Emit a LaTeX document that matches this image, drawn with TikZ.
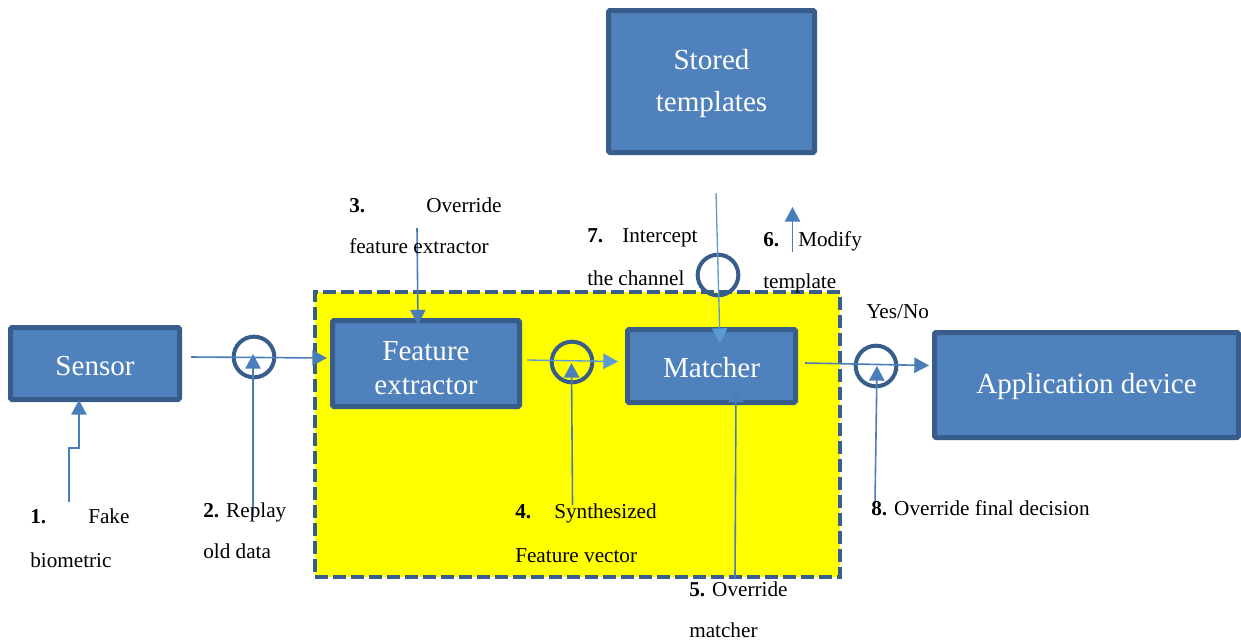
\documentclass[tikz,border=0pt]{standalone}
\usepackage{fontspec}
\setmainfont{Liberation Serif}
\usetikzlibrary{arrows.meta,calc}
\definecolor{boxfill}{HTML}{4F81BD}
\definecolor{boxline}{HTML}{385D8A}
\definecolor{arrowblue}{HTML}{4A7EBB}
\definecolor{arrowlight}{HTML}{5B9BD5}
\definecolor{zonefill}{HTML}{FFFF00}
\begin{document}
\begin{tikzpicture}[x=0.75pt,y=-0.75pt,
  block/.style={draw=boxline, fill=boxfill, line width=3.75pt, rounded corners=1.1pt,
    inner sep=0pt},
  btext/.style={text=white, font=\fontsize{21.8}{25.5}\selectfont, align=center, inner sep=0pt},
  zone/.style={draw=boxline, fill=zonefill, line width=3pt, dash pattern=on 9.75pt off 3.75pt,
    inner sep=0pt},
  tap/.style={circle, draw=boxline, line width=3pt, minimum size=30.5pt, inner sep=0pt},
  arr/.style={draw=arrowblue, line width=1.2pt, -{Triangle[length=11pt,width=11.5pt]}},
  arrlight/.style={arr, draw=arrowlight, line width=1pt},
  lbl/.style={font=\fontsize{15.9}{19}\selectfont, anchor=base west, inner sep=0pt}]
\useasboundingbox (0,0) rectangle (1241,643);

% protected processing zone
\node[zone, minimum width=393.75pt, minimum height=213.75pt] (zone) at (577.5,434.5) {};

% system blocks
\node[block, minimum width=126.75pt, minimum height=54pt] (sen) at (95,363.5) {};
\node[block, minimum width=140.25pt, minimum height=64.5pt] (fe) at (426,363.5) {};
\node[block, minimum width=126pt, minimum height=54.75pt] (mat) at (711.5,366) {};
\node[block, minimum width=228pt, minimum height=78.75pt] (app) at (1086.5,385) {};
\node[block, minimum width=154.5pt, minimum height=106.5pt] (st) at (711.5,81.5) {};

% block captions
\node[btext] (sent) at ($(sen.center)+(0,2.5)$) {Sensor};
\node[btext] (fet) at ($(fe.center)+(0,4.5)$) {Feature\\extractor};
\node[btext] (matt) at ($(mat.center)+(0,1.5)$) {Matcher};
\node[btext] (appt) at ($(app.center)+(0,1.5)$) {Application device};
\node[btext, font=\fontsize{21.8}{31.5}\selectfont] (stt) at ($(st.center)+(0,2.5)$) {Stored\\templates};

% attack points on the channels
\node[tap] (c1) at (254,357) {};
\node[tap] (c2) at (572,362) {};
\node[tap] (c3) at (718,275) {};
\node[tap] (c4) at (876,366) {};

% data flow
\draw[arr] ($(sen.east)+(9,-6.5)$) -- ($(fe.west)+(-3,-5.5)$);
\draw[arrlight] ($(fe.east)+(5,-3.5)$) -- ($(mat.west)+(-7,-4.5)$);
\draw[arr] ($(mat.east)+(7,-3)$) -- ($(app.west)+(-3,-19.5)$);
\coordinate (s7) at (716,193);
\draw[arrlight] (s7) -- ($(mat.north)+(8.5,16)$);

% attack arrows
\coordinate (f1) at (69,502);
\draw[arr] (f1) -- ++(0,-54) -- ++(10,0) -- ($(sen.south)+(-16,-2)$);
\coordinate (r2) at (253,516);
\draw[arr] (r2) -- ($(c1.center)+(-1,-3)$);
\coordinate (o3) at (417,228);
\draw[arr] (o3) -- ($(fe.north)+(-8,6.5)$);
\coordinate (s4) at (572.5,505);
\draw[arr] (s4) -- ($(c2.center)+(-0.5,1)$);
\coordinate (o5) at (735,578);
\draw[arr] (o5) -- ($(mat.south)+(24.5,-17.5)$);
\coordinate (m6a) at (792.5,252);
\coordinate (m6b) at (792.5,207);
\draw[arr] (m6a) -- (m6b);
\coordinate (o8) at (875,503);
\draw[arr] (o8) -- ($(c4.center)+(1,0)$);

% labels
\node[lbl] (l1a) at (30,523) {\textbf{1.}};
\node[lbl] (l1b) at (88,523) {Fake};
\node[lbl] (l1c) at (30,567) {biometric};
\node[lbl] (l2a) at (203,517) {\textbf{2.} Replay};
\node[lbl] (l2b) at (203,558) {old data};
\node[lbl] (l3a) at (349,212) {\textbf{3.}};
\node[lbl] (l3b) at (426,212) {Override};
\node[lbl] (l3c) at (349,253) {feature extractor};
\node[lbl] (l7a) at (587,242) {\textbf{7.}};
\node[lbl] (l7b) at (622,242) {Intercept};
\node[lbl] (l7c) at (587,285) {the channel};
\node[lbl] (l6a) at (763,246) {\textbf{6.}};
\node[lbl] (l6b) at (798,246) {Modify};
\node[lbl] (l6c) at (763,288) {template};
\node[lbl] (yn) at (866,318) {Yes/No};
\node[lbl] (l4a) at (515,518) {\textbf{4.}};
\node[lbl] (l4b) at (554,518) {Synthesized};
\node[lbl] (l4c) at (515,562) {Feature vector};
\node[lbl] (l5a) at (689,596) {\textbf{5.} Override};
\node[lbl] (l5b) at (689,637) {matcher};
\node[lbl] (l8) at (871,515) {\textbf{8.} Override final decision};
\end{tikzpicture}
\end{document}
